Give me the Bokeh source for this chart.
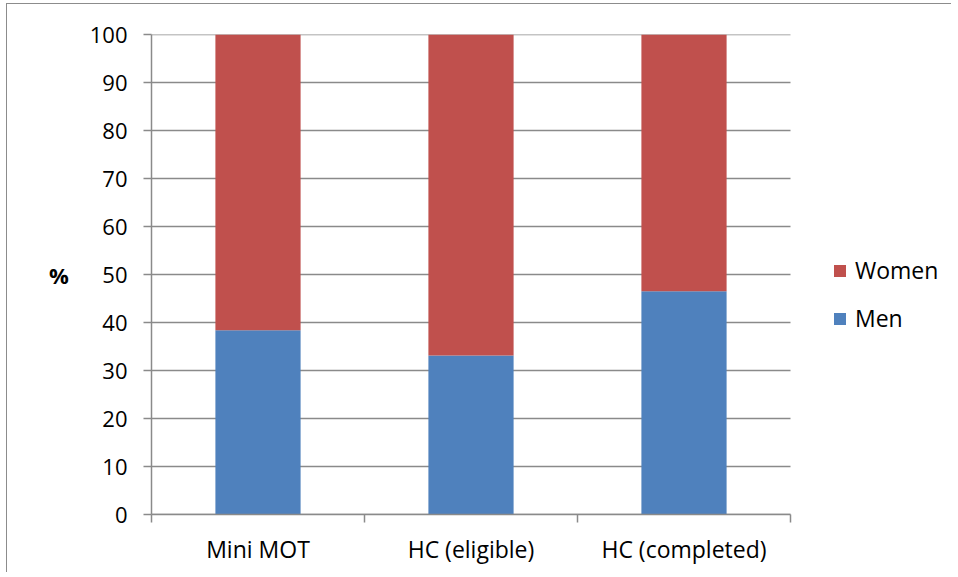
from bokeh.plotting import figure
from bokeh.models import ColumnDataSource, FixedTicker, Legend, LegendItem, Range1d
from bokeh.embed import file_html
from bokeh.resources import INLINE

categories = ["Mini MOT", "HC (eligible)", "HC (completed)"]
men = [38.4, 33.1, 46.5]
women = [100 - m for m in men]
y_ticks = [0, 10, 20, 30, 40, 50, 60, 70, 80, 90, 100]

FONT = "Open Sans"
RED = "#C0504D"
BLUE = "#4F81BD"
GRID = "#8a8a8a"

n = len(categories)
xs = [i + 0.5 for i in range(n)]
source = ColumnDataSource(dict(x=xs, men=men, women=women,
                               top=[m + w for m, w in zip(men, women)]))

CAT_PX = 639          # pixel width of the category area
FRAME_W = 800         # frame extends to the right to hold the legend
FRAME_H = 480

p = figure(frame_width=FRAME_W, frame_height=FRAME_H, output_backend="svg",
           toolbar_location=None,
           x_range=Range1d(0, n * FRAME_W / CAT_PX), y_range=Range1d(0, 100),
           min_border_left=144, min_border_right=0, min_border_top=30,
           min_border_bottom=58)
p.styles = {"border-left": "1.5px solid #8c8c8c", "border-top": "1.5px solid #8c8c8c",
            "margin-left": "6px", "margin-top": "3px"}
p.outline_line_color = None
p.background_fill_color = "white"
p.xgrid.visible = False
p.ygrid.visible = False

# horizontal gridlines limited to the category area
grid_src = ColumnDataSource(dict(x0=[0] * len(y_ticks), x1=[n] * len(y_ticks),
                                 y=y_ticks))
p.segment(x0="x0", x1="x1", y0="y", y1="y", source=grid_src,
          line_color=GRID, line_width=1.5, level="underlay")

r_men = p.vbar(x="x", bottom=0, top="men", width=0.4, source=source,
               fill_color=BLUE, line_color=None)
r_women = p.vbar(x="x", bottom="men", top="top", width=0.4, source=source,
                 fill_color=RED, line_color=None)

# x axis
xa = p.xaxis[0]
xa.bounds = (0, n)
xa.ticker = FixedTicker(ticks=xs, minor_ticks=list(range(n + 1)))
xa.major_label_overrides = {x: c for x, c in zip(xs, categories)}
xa.major_tick_line_color = None
xa.minor_tick_line_color = GRID
xa.minor_tick_line_width = 1.5
xa.minor_tick_out = 8
xa.minor_tick_in = 0
xa.axis_line_color = GRID
xa.axis_line_width = 1.5
xa.major_label_text_font = FONT
xa.major_label_text_font_size = "23px"
xa.major_label_text_color = "#000000"
xa.major_label_standoff = 10

# y axis
ya = p.yaxis[0]
ya.ticker = FixedTicker(ticks=y_ticks, minor_ticks=[])
ya.major_tick_line_color = GRID
ya.major_tick_line_width = 1.5
ya.major_tick_out = 8
ya.major_tick_in = 0
ya.minor_tick_line_color = None
ya.axis_line_color = GRID
ya.axis_line_width = 1.5
ya.major_label_text_font = FONT
ya.major_label_text_font_size = "22px"
ya.major_label_text_color = "#000000"
ya.major_label_standoff = 16
ya.axis_label = "%"
ya.axis_label_orientation = "horizontal"
ya.axis_label_text_font = FONT
ya.axis_label_text_font_size = "22px"
ya.axis_label_text_font_style = "bold"
ya.axis_label_text_color = "#000000"
ya.axis_label_standoff = 18

legend = Legend(items=[LegendItem(label="Women", renderers=[r_women]),
                       LegendItem(label="Men", renderers=[r_men])],
                location=(681, 180), orientation="vertical")
legend.border_line_color = None
legend.background_fill_alpha = 0
legend.padding = 0
legend.margin = 0
legend.glyph_width = 15
legend.glyph_height = 15
legend.label_standoff = 8
legend.spacing = 16
legend.label_text_font = FONT
legend.label_text_font_size = "23px"
legend.label_text_color = "#000000"
p.add_layout(legend, "center")

open("out.html", "w").write(file_html(p, INLINE))
